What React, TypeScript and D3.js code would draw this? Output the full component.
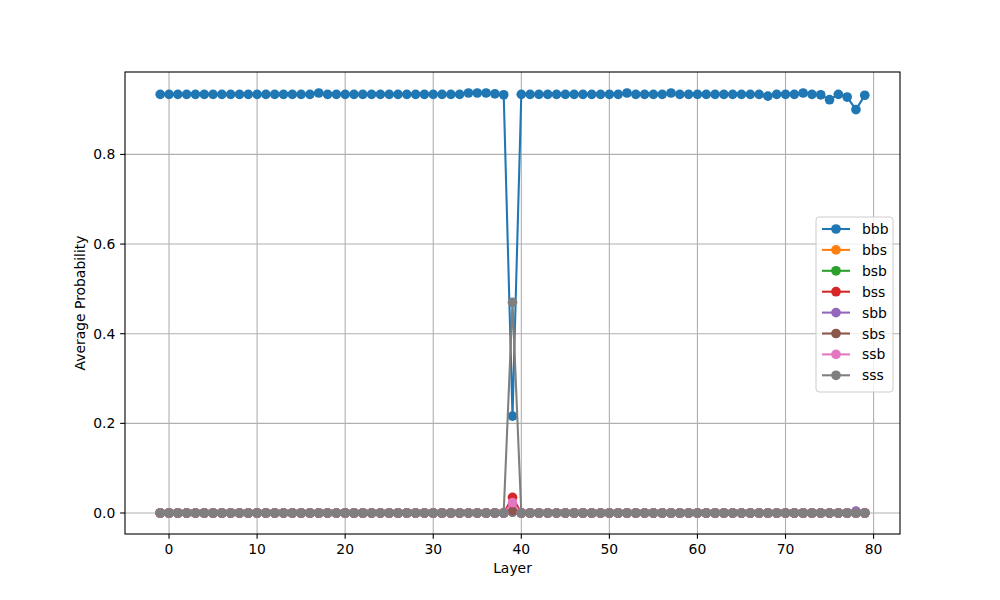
import React from "react";
import * as d3 from "d3";

const layers = [
  -1,
  0, 1, 2, 3, 4, 5, 6, 7, 8, 9,
  10, 11, 12, 13, 14, 15, 16, 17, 18, 19,
  20, 21, 22, 23, 24, 25, 26, 27, 28, 29,
  30, 31, 32, 33, 34, 35, 36, 37, 38, 39,
  40, 41, 42, 43, 44, 45, 46, 47, 48, 49,
  50, 51, 52, 53, 54, 55, 56, 57, 58, 59,
  60, 61, 62, 63, 64, 65, 66, 67, 68, 69,
  70, 71, 72, 73, 74, 75, 76, 77, 78, 79,
];

const bbb = [
  0.934,
  0.934, 0.934, 0.934, 0.934, 0.934, 0.934, 0.934, 0.934, 0.934, 0.934,
  0.934, 0.934, 0.934, 0.934, 0.934, 0.934, 0.934, 0.937, 0.934, 0.934,
  0.934, 0.934, 0.934, 0.934, 0.934, 0.934, 0.934, 0.934, 0.934, 0.934,
  0.934, 0.934, 0.934, 0.934, 0.937, 0.937, 0.937, 0.935, 0.933, 0.216,
  0.934, 0.934, 0.934, 0.934, 0.934, 0.934, 0.934, 0.934, 0.934, 0.934,
  0.934, 0.934, 0.937, 0.934, 0.934, 0.934, 0.934, 0.937, 0.934, 0.934,
  0.934, 0.934, 0.934, 0.934, 0.934, 0.934, 0.934, 0.934, 0.930, 0.934,
  0.934, 0.934, 0.937, 0.934, 0.933, 0.922, 0.934, 0.928, 0.900, 0.932,
];

const bbs = [
  0,
  0, 0, 0, 0, 0, 0, 0, 0, 0, 0,
  0, 0, 0, 0, 0, 0, 0, 0, 0, 0,
  0, 0, 0, 0, 0, 0, 0, 0, 0, 0,
  0, 0, 0, 0, 0, 0, 0, 0, 0, 0.002,
  0, 0, 0, 0, 0, 0, 0, 0, 0, 0,
  0, 0, 0, 0, 0, 0, 0, 0, 0, 0,
  0, 0, 0, 0, 0, 0, 0, 0, 0, 0,
  0, 0, 0, 0, 0, 0, 0, 0, 0, 0,
];

const bsb = [
  0,
  0, 0, 0, 0, 0, 0, 0, 0, 0, 0,
  0, 0, 0, 0, 0, 0, 0, 0, 0, 0,
  0, 0, 0, 0, 0, 0, 0, 0, 0, 0,
  0, 0, 0, 0, 0, 0, 0, 0, 0, 0.002,
  0, 0, 0, 0, 0, 0, 0, 0, 0, 0,
  0, 0, 0, 0, 0, 0, 0, 0, 0, 0,
  0, 0, 0, 0, 0, 0, 0, 0, 0, 0,
  0, 0, 0, 0, 0, 0, 0, 0, 0, 0,
];

const bss = [
  0,
  0, 0, 0, 0, 0, 0, 0, 0, 0, 0,
  0, 0, 0, 0, 0, 0, 0, 0, 0, 0,
  0, 0, 0, 0, 0, 0, 0, 0, 0, 0,
  0, 0, 0, 0, 0, 0, 0, 0, 0, 0.035,
  0, 0, 0, 0, 0, 0, 0, 0, 0, 0,
  0, 0, 0, 0, 0, 0, 0, 0, 0, 0,
  0, 0, 0, 0, 0, 0, 0, 0, 0, 0,
  0, 0, 0, 0, 0, 0, 0, 0, 0, 0,
];

const sbb = [
  0,
  0, 0, 0, 0, 0, 0, 0, 0, 0, 0,
  0, 0, 0, 0, 0, 0, 0, 0, 0, 0,
  0, 0, 0, 0, 0, 0, 0, 0, 0, 0,
  0, 0, 0, 0, 0, 0, 0, 0, 0, 0.003,
  0, 0, 0, 0, 0, 0, 0, 0, 0, 0,
  0, 0, 0, 0, 0, 0, 0, 0, 0, 0,
  0, 0, 0, 0, 0, 0, 0, 0, 0, 0,
  0, 0, 0, 0, 0, 0, 0, 0, 0.004, 0,
];

const sbs = [
  0,
  0, 0, 0, 0, 0, 0, 0, 0, 0, 0,
  0, 0, 0, 0, 0, 0, 0, 0, 0, 0,
  0, 0, 0, 0, 0, 0, 0, 0, 0, 0,
  0, 0, 0, 0, 0, 0, 0, 0, 0, 0.006,
  0, 0, 0, 0, 0, 0, 0, 0, 0, 0,
  0, 0, 0, 0, 0, 0, 0, 0, 0, 0,
  0, 0, 0, 0, 0, 0, 0, 0, 0, 0,
  0, 0, 0, 0, 0, 0, 0, 0, 0, 0,
];

const ssb = [
  0,
  0, 0, 0, 0, 0, 0, 0, 0, 0, 0,
  0, 0, 0, 0, 0, 0, 0, 0, 0, 0,
  0, 0, 0, 0, 0, 0, 0, 0, 0, 0,
  0, 0, 0, 0, 0, 0, 0, 0, 0, 0.023,
  0, 0, 0, 0, 0, 0, 0, 0, 0, 0,
  0, 0, 0, 0, 0, 0, 0, 0, 0, 0,
  0, 0, 0, 0, 0, 0, 0, 0, 0, 0,
  0, 0, 0, 0, 0, 0, 0, 0, 0, 0,
];

const sss = [
  0,
  0, 0, 0, 0, 0, 0, 0, 0, 0, 0,
  0, 0, 0, 0, 0, 0, 0, 0, 0, 0,
  0, 0, 0, 0, 0, 0, 0, 0, 0, 0,
  0, 0, 0, 0, 0, 0, 0, 0, 0, 0.470,
  0, 0, 0, 0, 0, 0, 0, 0, 0, 0,
  0, 0, 0, 0, 0, 0, 0, 0, 0, 0,
  0, 0, 0, 0, 0, 0, 0, 0, 0, 0,
  0, 0, 0, 0, 0, 0, 0, 0, 0, 0,
];

const seriesNames = ["bbb", "bbs", "bsb", "bss", "sbb", "sbs", "ssb", "sss"];
const seriesValues = [bbb, bbs, bsb, bss, sbb, sbs, ssb, sss];
const colors = ["#1f77b4", "#ff7f0e", "#2ca02c", "#d62728", "#9467bd", "#8c564b", "#e377c2", "#7f7f7f"];
const xTicks = [0, 10, 20, 30, 40, 50, 60, 70, 80];
const yTicks = [0.0, 0.2, 0.4, 0.6, 0.8];

const FONT = "DejaVu Sans, sans-serif";
const FS = 13.9;

export default function App() {
  const left = 125, right = 900, top = 72, bottom = 534;
  const xMin = d3.min(layers)!, xMax = d3.max(layers)!;
  const xPad = (xMax - xMin) * 0.05;
  const allVals = seriesValues.flat();
  const yMin0 = d3.min(allVals)!, yMax0 = d3.max(allVals)!;
  const yPad = (yMax0 - yMin0) * 0.05;
  const x = d3.scaleLinear().domain([xMin - xPad, xMax + xPad]).range([left, right]);
  const y = d3.scaleLinear().domain([yMin0 - yPad, yMax0 + yPad]).range([bottom, top]);
  const line = d3.line<number>().x((_, i) => x(layers[i])).y((d) => y(d));
  const r = 4.85;
  const tickLen = 4.86;

  const legX = 816, legY = 217, legW = 77, legH = 175;
  const rowY0 = 229, rowStep = 20.9;

  return (
    <svg width={1000} height={600} style={{ position: "absolute", left: 0, top: 0, background: "#fff" }} fontFamily={FONT}>
      <rect x={0} y={0} width={1000} height={600} fill="#fff" />
      <defs>
        <clipPath id="plotclip">
          <rect x={left} y={top} width={right - left} height={bottom - top} />
        </clipPath>
      </defs>
      {/* grid */}
      <g stroke="#b0b0b0" strokeWidth={1.1}>
        {xTicks.map((t) => (
          <line key={"gx" + t} x1={x(t)} x2={x(t)} y1={top} y2={bottom} />
        ))}
        {yTicks.map((t) => (
          <line key={"gy" + t} x1={left} x2={right} y1={y(t)} y2={y(t)} />
        ))}
      </g>
      {/* series */}
      <g clipPath="url(#plotclip)">
        {seriesValues.map((vals, si) => (
          <g key={seriesNames[si]}>
            <path d={line(vals)!} fill="none" stroke={colors[si]} strokeWidth={2.08} strokeLinejoin="round" strokeLinecap="square" />
            {vals.map((v, i) => (
              <circle key={i} cx={x(layers[i])} cy={y(v)} r={r} fill={colors[si]} />
            ))}
          </g>
        ))}
      </g>
      {/* spines */}
      <rect x={left} y={top} width={right - left} height={bottom - top} fill="none" stroke="#000" strokeWidth={1.1} />
      {/* x ticks */}
      <g>
        {xTicks.map((t) => (
          <g key={"xt" + t}>
            <line x1={x(t)} x2={x(t)} y1={bottom} y2={bottom + tickLen} stroke="#000" strokeWidth={1.1} />
            <text x={x(t)} y={bottom + tickLen + 4.86} textAnchor="middle" dominantBaseline="hanging" fontSize={FS} fill="#000">
              {d3.format("d")(t)}
            </text>
          </g>
        ))}
      </g>
      {/* y ticks */}
      <g>
        {yTicks.map((t) => (
          <g key={"yt" + t}>
            <line x1={left - tickLen} x2={left} y1={y(t)} y2={y(t)} stroke="#000" strokeWidth={1.1} />
            <text x={left - tickLen - 4.86} y={y(t)} textAnchor="end" dominantBaseline="central" fontSize={FS} fill="#000">
              {d3.format(".1f")(t)}
            </text>
          </g>
        ))}
      </g>
      {/* axis labels */}
      <text x={(left + right) / 2} y={563} textAnchor="middle" dominantBaseline="hanging" fontSize={FS} fill="#000">
        Layer
      </text>
      <text
        transform={`translate(80, ${(top + bottom) / 2}) rotate(-90)`}
        textAnchor="middle"
        dominantBaseline="central"
        fontSize={FS}
        fill="#000"
      >
        Average Probability
      </text>
      {/* legend */}
      <g>
        <rect x={legX} y={legY} width={legW} height={legH} rx={3} ry={3} fill="#fff" fillOpacity={0.8} stroke="#cccccc" strokeWidth={1} />
        {seriesNames.map((name, i) => {
          const cy = rowY0 + rowStep * i;
          return (
            <g key={"leg" + name}>
              <line x1={822} x2={850} y1={cy} y2={cy} stroke={colors[i]} strokeWidth={2.08} />
              <circle cx={836} cy={cy} r={r} fill={colors[i]} />
              <text x={862} y={cy} dominantBaseline="central" fontSize={FS} fill="#000">
                {name}
              </text>
            </g>
          );
        })}
      </g>
    </svg>
  );
}
